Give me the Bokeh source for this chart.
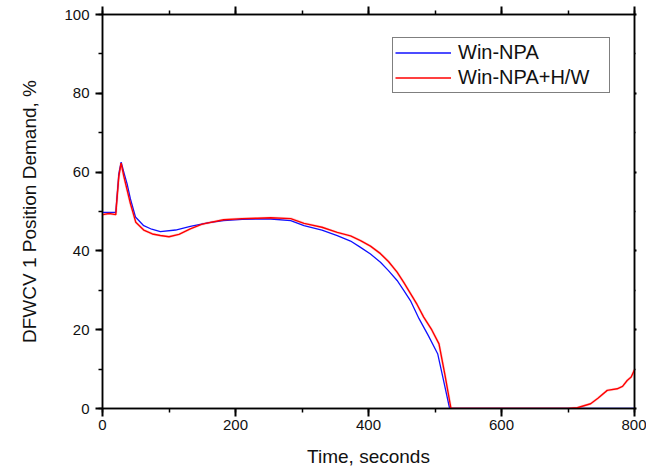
from bokeh.plotting import figure
from bokeh.models import (Range1d, LinearAxis, SingleIntervalTicker, Legend, LegendItem,
                          ColumnDataSource, CustomJSTickFormatter)
from bokeh.embed import file_html
from bokeh.resources import INLINE

# ---- data ----
t_npa = [0, 20, 21, 24.6, 28, 32, 37, 42, 49.6, 62, 74, 87, 110, 132, 160, 182, 210,
         233, 253, 283, 303, 330, 353, 373, 388, 403, 418, 430, 443, 453, 463, 476,
         490, 504, 513, 522, 600, 700, 800]
y_npa = [49.8, 49.8, 52.0, 59.6, 62.5, 60.0, 57.0, 53.2, 48.6, 46.4, 45.5, 44.9, 45.3,
         46.2, 47.2, 47.7, 48.0, 48.1, 48.1, 47.7, 46.4, 45.3, 43.9, 42.5, 40.9, 39.2,
         37.1, 35.0, 32.5, 30.0, 27.4, 22.8, 18.5, 13.9, 7.0, 0.0, 0.0, 0.0, 0.0]

t_hw = [0, 10, 20, 21, 24.6, 28, 32, 37, 42, 50, 62, 75, 87, 100, 115, 132, 150, 182,
        210, 233, 253, 283, 303, 330, 353, 373, 388, 403, 418, 430, 443, 453, 463, 473,
        483, 495, 506, 515, 524, 560, 600, 650, 700, 714, 734, 745, 759, 774, 782, 789,
        795, 800]
y_hw = [49.2, 49.5, 49.2, 51.5, 59.0, 62.3, 59.0, 55.5, 52.0, 47.3, 45.3, 44.3, 43.9,
        43.6, 44.2, 45.6, 46.8, 47.9, 48.2, 48.3, 48.4, 48.2, 47.0, 46.0, 44.7, 43.8,
        42.6, 41.2, 39.3, 37.3, 34.6, 32.0, 29.2, 26.4, 23.2, 20.0, 16.4, 8.5, 0.0, 0.0,
        0.0, 0.0, 0.0, 0.2, 1.2, 2.6, 4.6, 5.0, 5.6, 7.1, 8.0, 9.8]

series_names = ["Win-NPA", "Win-NPA+H/W"]
x_label = "Time, seconds"
y_label = "DFWCV 1 Position Demand, %"

FONT = "Liberation Sans"

p = figure(width=646, height=470, output_backend="svg", toolbar_location=None,
           x_range=Range1d(0, 800), y_range=Range1d(0, 100),
           min_border_left=102, min_border_right=12, min_border_top=14, min_border_bottom=62,
           background_fill_color="white", border_fill_color="white")
p.grid.visible = False
p.outline_line_color = "black"
p.outline_line_width = 1.5

src_a = ColumnDataSource(dict(t=t_npa, y=y_npa))
src_b = ColumnDataSource(dict(t=t_hw, y=y_hw))

r_a = p.line("t", "y", source=src_a, line_color="#1010ff", line_width=1.3)
p.line("t", "y", source=src_b, line_color="#ff2020", line_width=2.6, line_alpha=0.2)
r_b = p.line("t", "y", source=src_b, line_color="#ff0000", line_width=1.4)


def style_axis(ax, labels=True):
    ax.axis_line_width = 1.5
    ax.axis_line_color = "black"
    ax.major_tick_line_width = 2
    ax.minor_tick_line_width = 1.5
    ax.major_tick_line_color = "black"
    ax.minor_tick_line_color = "black"
    ax.major_tick_in = 0
    ax.minor_tick_in = 0
    ax.major_tick_out = 8
    ax.minor_tick_out = 4
    ax.major_label_text_font = FONT
    ax.major_label_text_font_size = "15px"
    ax.major_label_text_color = "#111111"
    ax.axis_label_text_font = FONT
    ax.axis_label_text_font_size = "19px"
    ax.axis_label_text_font_style = "normal"
    ax.axis_label_text_color = "#111111"
    if not labels:
        ax.formatter = CustomJSTickFormatter(code="return '';")
        ax.major_label_standoff = 0


p.xaxis.ticker = SingleIntervalTicker(interval=200, num_minor_ticks=2)
p.yaxis.ticker = SingleIntervalTicker(interval=20, num_minor_ticks=2)
style_axis(p.xaxis[0])
style_axis(p.yaxis[0])
p.xaxis.axis_label = x_label
p.yaxis.axis_label = y_label
p.xaxis.major_label_standoff = 3
p.xaxis.axis_label_standoff = 13
p.yaxis.major_tick_out = 7
p.yaxis.major_label_standoff = 6
p.yaxis.axis_label_standoff = 21

top = LinearAxis(ticker=SingleIntervalTicker(interval=200, num_minor_ticks=2))
style_axis(top, labels=False)
p.add_layout(top, "above")
right = LinearAxis(ticker=SingleIntervalTicker(interval=20, num_minor_ticks=2))
style_axis(right, labels=False)
right.major_tick_out = 2
right.minor_tick_out = 1
p.add_layout(right, "right")

legend = Legend(items=[LegendItem(label=series_names[0], renderers=[r_a]),
                       LegendItem(label=series_names[1], renderers=[r_b])],
                location=(290, 315), padding=2, spacing=0, margin=0,
                glyph_width=56, glyph_height=25, label_height=25, label_width=149,
                label_standoff=7, label_text_font=FONT, label_text_font_size="20px",
                label_text_color="#111111", border_line_color="black",
                border_line_width=1.2, background_fill_color="white",
                background_fill_alpha=1.0)
p.add_layout(legend, "center")

open("out.html", "w").write(file_html(p, INLINE))
